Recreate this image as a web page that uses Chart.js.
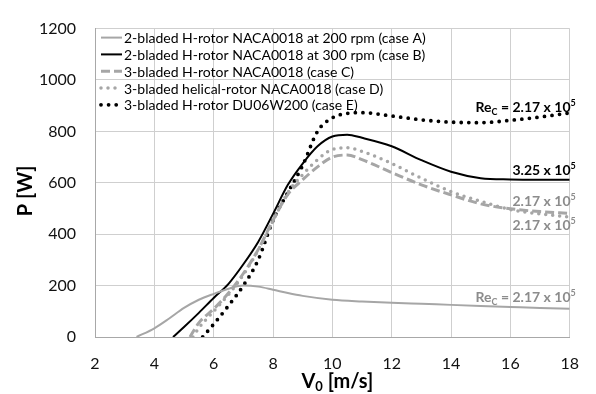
<!DOCTYPE html>
<html>
<head>
<meta charset="utf-8">
<script src="https://cdn.jsdelivr.net/npm/chart.js@4.4.0/dist/chart.umd.min.js"></script>
<style>
  html, body { margin: 0; padding: 0; background: #fff; }
  #wrap { width: 596px; height: 394px; }
</style>
</head>
<body>
<div id="wrap"><canvas id="chart" width="596" height="394"></canvas></div>
<script>
"use strict";

// wind speed V0 [m/s] and power P [W]
var caseA_v = [3.4, 4, 4.5, 5, 5.5, 6, 6.5, 7, 7.5, 8, 8.5, 9, 10, 11, 12, 13, 14, 15, 16, 17, 18];
var caseA_P = [0, 34, 72, 113, 145, 168, 188, 200, 196, 184, 171, 160, 145, 138, 133, 129, 125, 121, 117, 113, 110];

var caseB_v = [4.63, 5, 5.5, 6, 6.5, 7, 7.5, 8, 8.5, 9, 9.5, 10, 10.5, 11, 12, 13, 14, 15, 16, 17, 18];
var caseB_P = [0, 39, 94, 152, 207, 283, 370, 479, 592, 675, 742, 780, 787, 775, 742, 688, 643, 618, 613, 612, 612];

var caseC_v = [5.2, 5.5, 6, 6.5, 7, 7.5, 8, 8.5, 9, 9.5, 10, 10.5, 11, 12, 13, 14, 15, 16, 17, 18];
var caseC_P = [0, 55, 109, 171, 247, 340, 454, 555, 612, 662, 700, 708, 690, 640, 592, 553, 518, 499, 488, 481];

var caseD_v = [5.3, 5.5, 6, 6.5, 7, 7.5, 8, 8.5, 9, 9.5, 10, 10.5, 11, 12, 13, 14, 15, 16, 17, 18];
var caseD_P = [0, 35, 100, 165, 242, 338, 452, 562, 632, 690, 730, 736, 722, 675, 618, 566, 528, 496, 479, 467];

var caseE_v = [5.63, 6, 6.5, 7, 7.5, 8, 8.5, 9, 9.5, 10, 10.5, 11, 12, 13, 14, 15, 16, 17, 18];
var caseE_P = [0, 50, 122, 200, 300, 454, 562, 668, 800, 853, 870, 873, 860, 845, 836, 834, 843, 856, 872];

var seriesLabels = [
    "2-bladed H-rotor NACA0018 at 200 rpm (case A)",
    "2-bladed H-rotor NACA0018 at 300 rpm (case B)",
    "3-bladed H-rotor NACA0018 (case C)",
    "3-bladed helical-rotor NACA0018 (case D)",
    "3-bladed H-rotor DU06W200 (case E)"
];

var xTicks = [2, 4, 6, 8, 10, 12, 14, 16, 18];
var yTicks = [0, 200, 400, 600, 800, 1000, 1200];

// Reynolds number notes at the right end of the curves
var reNotes = [
    { re: true,  text: " = 2.17 x 10", at: 894, color: "#000000" },
    { re: false, text: "3.25 x 10",    at: 649, color: "#000000" },
    { re: false, text: "2.17 x 10",    at: 528, color: "#8c8c8c" },
    { re: false, text: "2.17 x 10",    at: 434, color: "#8c8c8c" },
    { re: true,  text: " = 2.17 x 10", at: 155, color: "#8c8c8c" }
];

var FONT = "Lato, 'Open Sans', sans-serif";
var GREY = "#a6a6a6";

function pts(vs, ps) {
    var out = [];
    for (var i = 0; i < vs.length; i++) {
        out.push({ x: vs[i], y: ps[i] });
    }
    return out;
}

var datasets = [
    { label: seriesLabels[0], data: pts(caseA_v, caseA_P), borderColor: GREY, borderWidth: 2, borderDash: [] },
    { label: seriesLabels[1], data: pts(caseB_v, caseB_P), borderColor: "#000", borderWidth: 2, borderDash: [] },
    { label: seriesLabels[2], data: pts(caseC_v, caseC_P), borderColor: GREY, borderWidth: 3, borderDash: [9, 4] },
    { label: seriesLabels[3], data: pts(caseD_v, caseD_P), borderColor: GREY, borderWidth: 3.5, borderDash: [0, 7], borderCapStyle: "round" },
    { label: seriesLabels[4], data: pts(caseE_v, caseE_P), borderColor: "#000", borderWidth: 3.8, borderDash: [0, 7.6], borderCapStyle: "round" }
];
datasets.forEach(function (d) {
    d.pointRadius = 0;
    d.fill = false;
    d.cubicInterpolationMode = "monotone";
    if (!d.borderCapStyle) { d.borderCapStyle = "butt"; }
});

// draws the inner legend, the Re notes and the axis titles
var extras = {
    id: "extras",
    afterDraw: function (chart) {
        var ctx = chart.ctx,
            area = chart.chartArea,
            xs = chart.scales.x,
            ys = chart.scales.y;
        ctx.save();

        // legend inside the plot, top left
        ctx.font = "14px " + FONT;
        ctx.textBaseline = "middle";
        ctx.textAlign = "left";
        chart.data.datasets.forEach(function (d, i) {
            var y = area.top + 9 + i * 16.8;
            ctx.beginPath();
            ctx.strokeStyle = d.borderColor;
            ctx.lineWidth = d.borderWidth;
            ctx.lineCap = d.borderCapStyle;
            ctx.setLineDash(d.borderDash);
            ctx.moveTo(area.left + 6, y);
            ctx.lineTo(area.left + 27, y);
            ctx.stroke();
            ctx.setLineDash([]);
            ctx.fillStyle = "#000";
            ctx.fillText(d.label, area.left + 29, y + 1);
        });

        // Re notes, right aligned just past the plot edge
        reNotes.forEach(function (n) {
            var right = area.right + 6,
                y = ys.getPixelForValue(n.at),
                big = "bold 14px " + FONT,
                small = "bold 9px " + FONT,
                w;
            ctx.fillStyle = n.color;
            ctx.textAlign = "left";
            ctx.textBaseline = "alphabetic";
            ctx.font = small;
            var wSup = ctx.measureText("5").width,
                wSub = ctx.measureText("C").width;
            ctx.font = big;
            w = ctx.measureText(n.text).width + wSup;
            var wRe = n.re ? ctx.measureText("Re").width + wSub : 0;
            var x = right - w - wRe;
            var base = y + 5;
            if (n.re) {
                ctx.fillText("Re", x, base);
                x += ctx.measureText("Re").width;
                ctx.font = small;
                ctx.fillText("C", x, base + 3);
                x += wSub;
                ctx.font = big;
            }
            ctx.fillText(n.text, x, base);
            x += ctx.measureText(n.text).width;
            ctx.font = small;
            ctx.fillText("5", x, base - 6);
        });

        // axis titles
        ctx.fillStyle = "#000";
        ctx.font = "bold 20px " + FONT;
        ctx.textBaseline = "middle";
        ctx.save();
        ctx.translate(26, (area.top + area.bottom) / 2 + 8);
        ctx.rotate(-Math.PI / 2);
        ctx.textAlign = "center";
        ctx.fillText("P [W]", 0, 0);
        ctx.restore();

        var tMain = "V", tSub = "0", tRest = " [m/s]";
        ctx.font = "bold 20px " + FONT;
        var w1 = ctx.measureText(tMain).width, w3 = ctx.measureText(tRest).width;
        ctx.font = "bold 13px " + FONT;
        var w2 = ctx.measureText(tSub).width;
        var cx = (xs.left + xs.right) / 2 + 5,
            x0 = cx - (w1 + w2 + w3) / 2,
            yb = 382;
        ctx.textAlign = "left";
        ctx.font = "bold 20px " + FONT;
        ctx.fillText(tMain, x0, yb);
        ctx.font = "bold 13px " + FONT;
        ctx.fillText(tSub, x0 + w1, yb + 5);
        ctx.font = "bold 20px " + FONT;
        ctx.fillText(tRest, x0 + w1 + w2, yb);

        ctx.restore();
    }
};

function plain(v) { return String(v); }

new Chart(document.getElementById("chart").getContext("2d"), {
    type: "line",
    data: { datasets: datasets },
    options: {
        responsive: false,
        animation: false,
        layout: { padding: { top: 19, right: 19, left: 0, bottom: 0 } },
        plugins: {
            legend: { display: false },
            tooltip: { enabled: false }
        },
        scales: {
            x: {
                type: "linear",
                min: xTicks[0],
                max: xTicks[xTicks.length - 1],
                afterBuildTicks: function (s) { s.ticks = xTicks.map(function (v) { return { value: v }; }); },
                afterFit: function (s) { s.height = 57; },
                grid: { color: "#cfcfcf", lineWidth: 1, drawTicks: false },
                border: { color: "#a8a8a8", width: 1 },
                ticks: { padding: 17, color: "#111", font: { family: FONT, size: 16 }, maxRotation: 0, callback: plain }
            },
            y: {
                min: yTicks[0],
                max: yTicks[yTicks.length - 1],
                afterBuildTicks: function (s) { s.ticks = yTicks.map(function (v) { return { value: v }; }); },
                afterFit: function (s) { s.width = 95; },
                grid: { color: "#cfcfcf", lineWidth: 1, drawTicks: false },
                border: { color: "#a8a8a8", width: 1 },
                ticks: { padding: 19, color: "#111", font: { family: FONT, size: 16 }, callback: plain }
            }
        }
    },
    plugins: [extras]
});
</script>
</body>
</html>
